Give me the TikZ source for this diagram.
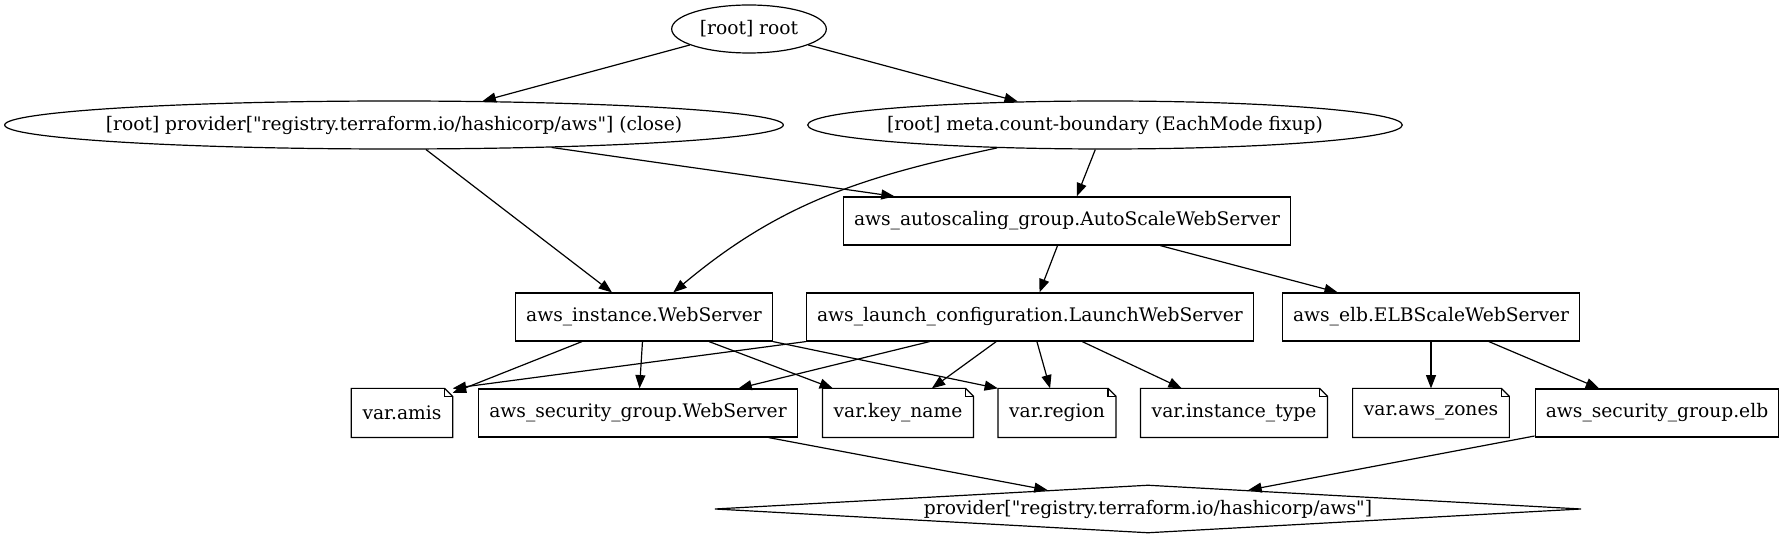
\documentclass[tikz,border=0pt]{standalone}
\usepackage{fontspec}
\setmainfont{DejaVu Serif}
\usepackage{tikz}
\usetikzlibrary{shapes.geometric,arrows.meta}

\tikzset{
	every node/.style={font=\fontsize{14pt}{16.8pt}\selectfont},
	res/.style={draw,rectangle,inner xsep=8pt,minimum height=36pt},
	var/.style={rectangle,inner xsep=8pt,minimum height=36pt},
	oval/.style={draw,ellipse,inner xsep=-12pt,minimum height=36pt},
	edge/.style={-{Triangle[length=10pt,width=7.5pt]}}
}

\begin{document}
\begin{tikzpicture}[x=0.75pt,y=0.75pt,line width=0.9pt]
	\useasboundingbox (0,0) rectangle (1785,539);
	
	%ROOT
	\node[oval,minimum width=116pt] (root) at (749,510) {[root] root};
	\node[oval,minimum width=584pt] (provclose) at (394,414) {[root] provider[\textquotedbl registry.terraform.io/hashicorp/aws\textquotedbl] (close)};
	\node[oval,minimum width=446pt] (meta) at (1105,414) {[root] meta.count-boundary (EachMode fixup)};
	
	%RESOURCES
	\node[res] (asg)   at (1067,318) {aws\_autoscaling\_group.AutoScaleWebServer};
	\node[res] (inst)  at (644,222)  {aws\_instance.WebServer};
	\node[res] (lc)    at (1030,222) {aws\_launch\_configuration.LaunchWebServer};
	\node[res] (elb)   at (1431,222) {aws\_elb.ELBScaleWebServer};
	\node[res] (sgweb) at (638,126)  {aws\_security\_group.WebServer};
	\node[res] (sgelb) at (1657,126) {aws\_security\_group.elb};
	\node[draw,diamond,aspect=18,inner sep=0pt,minimum width=650pt,minimum height=36pt] (provider) at (1148,30) {provider[\textquotedbl registry.terraform.io/hashicorp/aws\textquotedbl]};
	
	%VARIABLES
	\node[var] (amis)     at (402,126)  {var.amis};
	\node[var] (keyname)  at (898,126)  {var.key\_name};
	\node[var] (region)   at (1057,126) {var.region};
	\node[var] (insttype) at (1234,126) {var.instance\_type};
	\node[var] (zones)    at (1431,126) {var.aws\_zones};
	\foreach \v in {amis,keyname,region,insttype,zones}{	%note outline with folded corner
		\draw (\v.north west) -- ([xshift=-6pt]\v.north east) -- ([yshift=-6pt]\v.north east)
			-- (\v.south east) -- (\v.south west) -- cycle;
		\draw ([xshift=-6pt]\v.north east) |- ([yshift=-6pt]\v.north east);
	}
	
	%EDGES
	\draw[edge] (root) -- (provclose);
	\draw[edge] (root) -- (meta);
	\draw[edge] (provclose) -- (asg);
	\draw[edge] (provclose) -- (inst);
	\draw[edge] (meta) -- (asg);
	\draw[edge] (meta) to[out=192,in=40] (inst);
	\draw[edge] (asg) -- (lc);
	\draw[edge] (asg) -- (elb);
	\foreach \v in {amis,sgweb,keyname} \draw[edge] (inst) -- (\v);
	\draw[edge] (inst.south east) -- (region.north west);
	\draw[edge] (lc.south west) -- (amis.north east);
	\foreach \v in {sgweb,keyname,region,insttype} \draw[edge] (lc) -- (\v);
	\draw[edge] (elb) -- (zones);
	\draw[edge] (elb) -- (sgelb);
	\draw[edge] (sgweb) -- (provider);
	\draw[edge] (sgelb) -- (provider);
	
\end{tikzpicture}
\end{document}
